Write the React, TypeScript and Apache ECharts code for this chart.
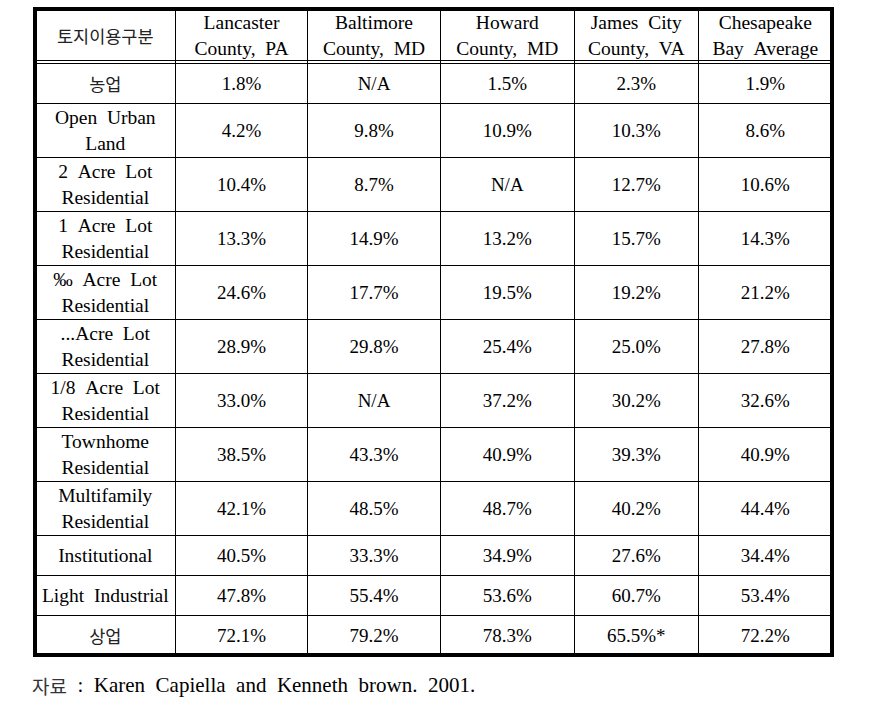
import React, { useEffect, useRef } from 'react';
import * as echarts from 'echarts';

// ---- data ----
const cornerHeader = '토지이용구분';
const regions = [
  'Lancaster\nCounty, PA',
  'Baltimore\nCounty, MD',
  'Howard\nCounty, MD',
  'James City\nCounty, VA',
  'Chesapeake\nBay Average',
];
const landUses = [
  '농업',
  'Open Urban\nLand',
  '2 Acre Lot\nResidential',
  '1 Acre Lot\nResidential',
  '‰ Acre Lot\nResidential',
  '...Acre Lot\nResidential',
  '1/8 Acre Lot\nResidential',
  'Townhome\nResidential',
  'Multifamily\nResidential',
  'Institutional',
  'Light Industrial',
  '상업',
];
const lancaster = [1.8, 4.2, 10.4, 13.3, 24.6, 28.9, 33.0, 38.5, 42.1, 40.5, 47.8, 72.1];
const baltimore = [null, 9.8, 8.7, 14.9, 17.7, 29.8, null, 43.3, 48.5, 33.3, 55.4, 79.2];
const howard = [1.5, 10.9, null, 13.2, 19.5, 25.4, 37.2, 40.9, 48.7, 34.9, 53.6, 78.3];
const jamesCity = [2.3, 10.3, 12.7, 15.7, 19.2, 25.0, 30.2, 39.3, 40.2, 27.6, 60.7, 65.5];
const chesapeake = [1.9, 8.6, 10.6, 14.3, 21.2, 27.8, 32.6, 40.9, 44.4, 34.4, 53.4, 72.2];
const seriesValues = [lancaster, baltimore, howard, jamesCity, chesapeake];
// [region index, land-use index] cells carrying a footnote asterisk
const footnoteCells = [[3, 11]];
const sourceLabel = '자료';
const sourceText = ' : Karen Capiella and Kenneth brown. 2001.';

// ---- layout ----
const COL_W = [140.5, 132, 133, 133.5, 124.5, 133.5];
const ROW_H_ONE = 40;
const ROW_H_TWO = 54;

const hasKorean = (s: string) => /[\uAC00-\uD7A3]/.test(s);
const widen = (s: string) => s.replace(/ /g, '\u00A0\u00A0');

export default function App() {
  const ref = useRef<HTMLDivElement>(null);
  useEffect(() => {
    if (!ref.current) return;
    const chart = echarts.init(ref.current, undefined, { renderer: 'svg' });

    const rowLabels = [regions[0], ...landUses];
    const rowHeights = rowLabels.map((l) => (l.includes('\n') ? ROW_H_TWO : ROW_H_ONE));
    const colEdges = [0];
    COL_W.forEach((w) => colEdges.push(colEdges[colEdges.length - 1] + w));
    const rowEdges = [0];
    rowHeights.forEach((h) => rowEdges.push(rowEdges[rowEdges.length - 1] + h));
    const totalW = colEdges[colEdges.length - 1];
    const totalH = rowEdges[rowEdges.length - 1];
    const nCols = COL_W.length;
    const nRows = rowHeights.length;

    const cells: { value: number[]; text: string }[] = [];
    for (let r = 0; r < nRows; r++) {
      for (let c = 0; c < nCols; c++) {
        let text = '';
        if (r === 0 && c === 0) text = cornerHeader;
        else if (r === 0) text = regions[c - 1];
        else if (c === 0) text = landUses[r - 1];
        else {
          const v = seriesValues[c - 1][r - 1];
          text = v == null ? 'N/A' : v.toFixed(1) + '%';
          if (footnoteCells.some(([ci, ri]) => ci === c - 1 && ri === r - 1)) text += '*';
        }
        cells.push({ value: [c, r], text });
      }
    }

    const line = (x1: number, y1: number, x2: number, y2: number) => ({
      type: 'line',
      shape: { x1, y1, x2, y2 },
      style: { stroke: '#000', lineWidth: 1 },
    });

    chart.setOption({
      animation: false,
      backgroundColor: '#fff',
      title: {
        left: 32,
        top: 673,
        padding: 0,
        text: `{ko|${sourceLabel}}{en|${widen(sourceText)}}`,
        textStyle: {
          fontWeight: 'normal',
          rich: {
            ko: { fontFamily: 'Noto Sans CJK KR', fontSize: 19, fontWeight: 'normal', color: '#333', lineHeight: 24 },
            en: { fontFamily: 'Liberation Serif', fontSize: 21, fontWeight: 'normal', color: '#000', lineHeight: 24 },
          },
        },
      },
      grid: {
        left: 35,
        top: 9,
        width: totalW,
        height: totalH,
        show: true,
        borderWidth: 4,
        borderColor: '#000',
        backgroundColor: '#fff',
      },
      xAxis: { type: 'value', min: 0, max: totalW, show: false },
      yAxis: { type: 'value', min: 0, max: totalH, inverse: true, show: false },
      series: [
        {
          type: 'custom',
          data: cells,
          z: 1,
          renderItem: (params: any, api: any) => {
            const c = api.value(0);
            const r = api.value(1);
            const item = cells[params.dataIndex];
            const p0 = api.coord([colEdges[c], rowEdges[r]]);
            const p1 = api.coord([colEdges[c + 1], rowEdges[r + 1]]);
            const children: any[] = [];
            const ko = hasKorean(item.text);
            const isNum = r > 0 && c > 0;
            children.push({
              type: 'text',
              x: (p0[0] + p1[0]) / 2,
              y: (p0[1] + p1[1]) / 2 - (r === 0 ? 1 : 0),
              style: {
                text: ko ? item.text : widen(item.text),
                fontFamily: ko ? 'Noto Sans CJK KR' : 'Liberation Serif',
                fontSize: ko ? 17.5 : isNum ? 19 : 19.5,
                fill: ko ? '#222' : '#000',
                align: 'center',
                verticalAlign: 'middle',
                lineHeight: 26,
              },
            });
            if (c < nCols - 1) {
              const x = Math.floor(p1[0]) + 0.5;
              children.push(line(x, p0[1], x, p1[1]));
            }
            if (r < nRows - 1) {
              const y = Math.floor(p1[1]) + 0.5;
              if (r === 0) {
                children.push(line(p0[0], y - 3, p1[0], y - 3));
                children.push(line(p0[0], y, p1[0], y));
              } else {
                children.push(line(p0[0], y, p1[0], y));
              }
            }
            return { type: 'group', children };
          },
        },
      ],
    });
    return () => chart.dispose();
  }, []);
  return <div ref={ref} style={{ position: 'fixed', left: 0, top: 0, width: 875, height: 717 }} />;
}
